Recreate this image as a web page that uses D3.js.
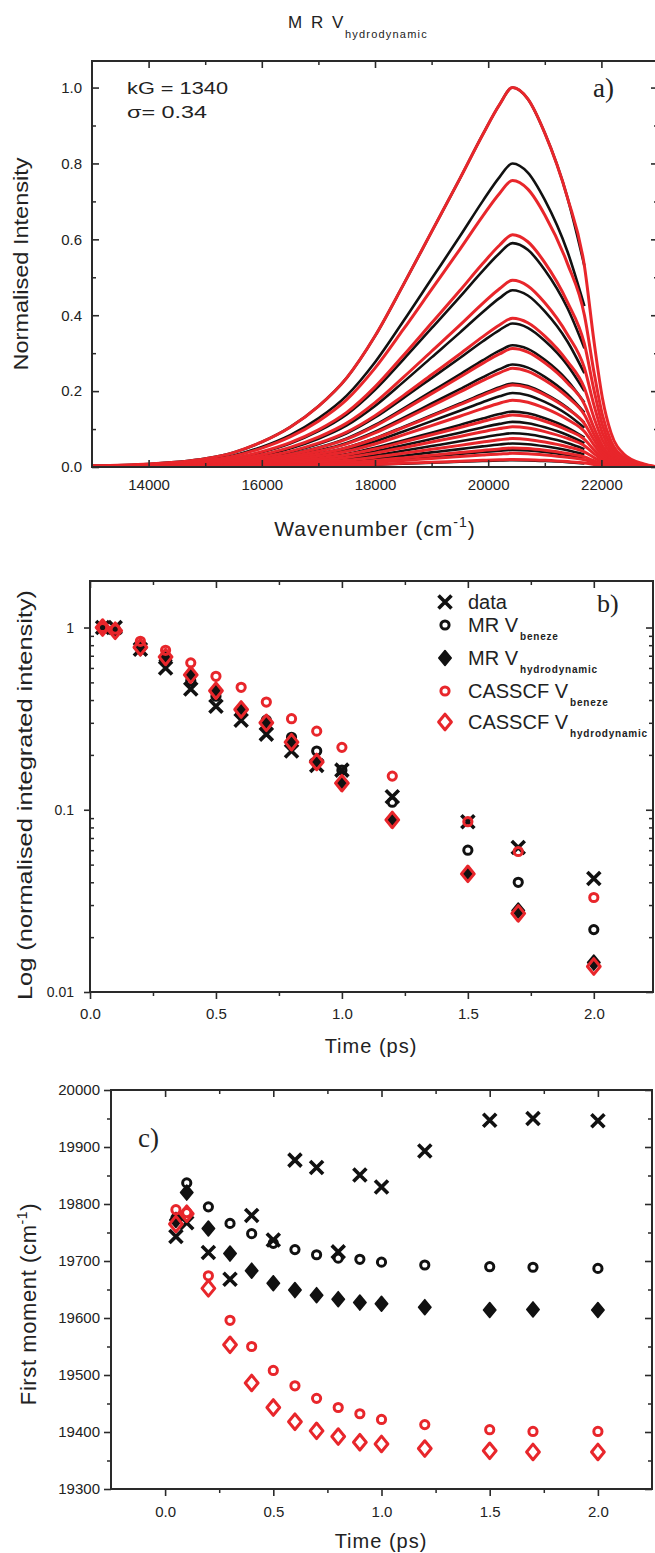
<!DOCTYPE html>
<html>
<head>
<meta charset="utf-8">
<script src="https://cdn.jsdelivr.net/npm/d3@7"></script>
<style>
  body { margin: 0; background: #fff; }
  svg { display: block; }
  text { font-family: "Liberation Sans", Arial, sans-serif; fill: #222; }
  .serif { font-family: "Liberation Serif", "Times New Roman", serif; }
</style>
</head>
<body>
<svg id="chart" width="655" height="1553"></svg>
<script>
// ---------- Panel a: emission spectra ----------
const wavenumbers   = [13000,14000,15000,15500,16000,16500,17000,17500,18000,18500,19000,19500,19900,20200,20430,20700,21000,21400,21700,21870,22020,22170,22390,22750,23000];
const modelProfile  = [0.003,0.008,0.022,0.038,0.066,0.105,0.160,0.235,0.345,0.480,0.620,0.760,0.875,0.955,1.000,0.970,0.880,0.710,0.530,0.330,0.180,0.090,0.035,0.008,0.000];
const dataLastWavenumber = 21720;
const dataPeaks     = [1.0, 0.80, 0.59, 0.466, 0.378, 0.321, 0.27, 0.22, 0.195, 0.146, 0.119, 0.089, 0.062, 0.045, 0.018];
const modelPeaks    = [1.0, 0.755, 0.612, 0.492, 0.392, 0.312, 0.26, 0.216, 0.176, 0.137, 0.106, 0.075, 0.05, 0.036, 0.02];
const xTicksA = [14000, 16000, 18000, 20000, 22000];
const xMinorA = [15000, 17000, 19000, 21000];
const yTicksA = [0, 0.2, 0.4, 0.6, 0.8, 1.0];
const yMinorA = [0.1, 0.3, 0.5, 0.7, 0.9];

// ---------- Shared time axis (panels b, c) ----------
const times = [0.05, 0.1, 0.2, 0.3, 0.4, 0.5, 0.6, 0.7, 0.8, 0.9, 1.0, 1.2, 1.5, 1.7, 2.0];
const timeTicks = [0, 0.5, 1.0, 1.5, 2.0];
const timeMinor = [0.25, 0.75, 1.25, 1.75];

// ---------- Panel b: normalised integrated intensity ----------
const intensityData        = [1.0, 1.0, 0.76, 0.60, 0.46, 0.37, 0.31, 0.26, 0.21, 0.175, 0.165, 0.118, 0.086, 0.062, 0.042];
const intensityMRBeneze    = [1.0, 0.98, 0.78, 0.69, 0.51, 0.42, 0.34, 0.31, 0.25, 0.21, 0.165, 0.11, 0.060, 0.040, 0.022];
const intensityMRHydro     = [1.0, 0.96, 0.77, 0.66, 0.55, 0.45, 0.355, 0.30, 0.235, 0.183, 0.14, 0.088, 0.0445, 0.028, 0.0145];
const intensityCASBeneze   = [1.0, 0.98, 0.84, 0.75, 0.64, 0.54, 0.47, 0.39, 0.316, 0.27, 0.22, 0.153, 0.086, 0.059, 0.033];
const intensityCASHydro    = [1.0, 0.96, 0.78, 0.69, 0.55, 0.45, 0.355, 0.30, 0.235, 0.183, 0.14, 0.088, 0.0445, 0.027, 0.0138];
const logTicks = [0.01, 0.1, 1];

// ---------- Panel c: first moment ----------
const momentData      = [19743, 19767, 19715, 19668, 19780, 19737, 19877, 19864, 19716, 19851, 19830, 19893, 19947, 19950, 19946];
const momentMRBeneze  = [19775, 19837, 19795, 19766, 19748, 19731, 19720, 19711, 19705, 19703, 19698, 19693, 19690, 19689, 19687];
const momentMRHydro   = [19772, 19820, 19757, 19713, 19683, 19661, 19649, 19640, 19633, 19627, 19625, 19619, 19614, 19615, 19614];
const momentCASBeneze = [19790, 19785, 19674, 19596, 19550, 19508, 19481, 19459, 19443, 19432, 19422, 19413, 19404, 19401, 19401];
const momentCASHydro  = [19765, 19783, 19652, 19553, 19486, 19443, 19418, 19402, 19392, 19382, 19379, 19371, 19367, 19365, 19365];
const momentTicks = [19300, 19400, 19500, 19600, 19700, 19800, 19900, 20000];
const momentMinor = [19350, 19450, 19550, 19650, 19750, 19850, 19950];

// ---------- Legend ----------
const legendNames = ["data", "MR V", "MR V", "CASSCF V", "CASSCF V"];
const legendSubs  = ["", "beneze", "hydrodynamic", "beneze", "hydrodynamic"];

const RED = "#e8262b", INK = "#111", AXIS = "#2a2a2a";
const svg = d3.select("#chart");

// Axis helper: positive lengths point outward, negative inward
function drawAxis(g, scale, orient, o) {
  const make = {bottom: d3.axisBottom, top: d3.axisTop, left: d3.axisLeft, right: d3.axisRight}[orient];
  if (o.minor) {
    const m = g.append("g").call(make(scale).tickValues(o.minor).tickSize(o.minorLen).tickFormat(""));
    m.select(".domain").remove();
    m.selectAll("line").attr("stroke", AXIS).attr("stroke-width", 1.5);
  }
  const a = g.append("g").call(make(scale).tickValues(o.major).tickSize(o.majorLen)
    .tickPadding(o.pad || 3).tickFormat(o.fmt || ""));
  a.select(".domain").remove();
  a.selectAll("line").attr("stroke", AXIS).attr("stroke-width", 1.6);
  a.selectAll("text").attr("font-size", o.font || 15).attr("fill", "#333")
    .attr("font-family", "'Liberation Sans', Arial, sans-serif");
  return a;
}

function frame(x0, y0, x1, y1) {
  svg.append("rect").attr("x", x0).attr("y", y0).attr("width", x1 - x0).attr("height", y1 - y0)
    .attr("fill", "none").attr("stroke", AXIS).attr("stroke-width", 2);
}

// Marker shapes
function drawMarkers(g, xs, ys, type, color) {
  const sel = g.append("g").selectAll("g").data(xs.map((t, i) => [t, ys[i]])).join("g")
    .attr("transform", d => `translate(${d[0]},${d[1]})`);
  if (type === "cross") {
    sel.append("path").attr("d", "M-6.5,-6.5L6.5,6.5M-6.5,6.5L6.5,-6.5")
      .attr("stroke", color).attr("stroke-width", 3.6).attr("fill", "none");
  } else if (type === "ring") {
    sel.append("circle").attr("r", 4.1).attr("fill", "none").attr("stroke", color).attr("stroke-width", 3);
  } else if (type === "diamondFill") {
    sel.append("path").attr("d", "M0,-7.5L6.2,0L0,7.5L-6.2,0Z").attr("fill", color)
      .attr("stroke", color).attr("stroke-width", 1.6).attr("stroke-linejoin", "round");
  } else if (type === "diamondRing") {
    sel.append("path").attr("d", "M0,-7.8L6.4,0L0,7.8L-6.4,0Z").attr("fill", "none")
      .attr("stroke", color).attr("stroke-width", 3).attr("stroke-linejoin", "round");
  }
}

// ================= Panel a =================
const A = {l: 92, r: 658, t: 61, b: 467};
const xA = d3.scaleLinear().domain([13000, 23000]).range([A.l, A.r]);
const yA = d3.scaleLinear().domain([0, 1.07]).range([A.b, A.t]);

svg.append("clipPath").attr("id", "clipA").append("rect")
  .attr("x", A.l).attr("y", A.t).attr("width", A.r - A.l).attr("height", A.b - A.t);
const gA = svg.append("g").attr("clip-path", "url(#clipA)");
const lineA = d3.line().x(d => xA(d[0])).y(d => yA(d[1])).curve(d3.curveMonotoneX);

// measured spectra (black), truncated at the detector edge
dataPeaks.forEach(p => {
  const pts = wavenumbers.map((w, i) => [w, p * modelProfile[i]]).filter(d => d[0] <= dataLastWavenumber);
  gA.append("path").attr("d", lineA(pts)).attr("fill", "none").attr("stroke", INK).attr("stroke-width", 2.6);
});
// simulated spectra (red)
modelPeaks.forEach(p => {
  const pts = wavenumbers.map((w, i) => [w, p * modelProfile[i]]);
  gA.append("path").attr("d", lineA(pts)).attr("fill", "none").attr("stroke", RED).attr("stroke-width", 3);
});

frame(A.l, A.t, A.r, A.b);
drawAxis(svg.append("g").attr("transform", `translate(0,${A.b})`), xA, "bottom",
  {major: xTicksA, minor: xMinorA, majorLen: -7, minorLen: -4, pad: 12, fmt: d3.format("d"), font: 15});
drawAxis(svg.append("g").attr("transform", `translate(0,${A.t})`), xA, "top",
  {major: xTicksA, minor: xMinorA, majorLen: -7, minorLen: -4});
drawAxis(svg.append("g").attr("transform", `translate(${A.l},0)`), yA, "left",
  {major: yTicksA, minor: yMinorA, majorLen: -7, minorLen: -4, pad: 10, fmt: d3.format(".1f"), font: 15});
drawAxis(svg.append("g").attr("transform", `translate(${A.r},0)`), yA, "right",
  {major: yTicksA, minor: yMinorA, majorLen: -7, minorLen: -4});

const titleA = svg.append("text").attr("x", 288).attr("y", 28).attr("font-size", 17).attr("fill", "#333");
titleA.append("tspan").attr("letter-spacing", 2).text("M R V");
titleA.append("tspan").attr("x", 345).attr("dy", 10).attr("font-size", 11).attr("letter-spacing", 1.2).text("hydrodynamic");

svg.append("text").attr("x", 127).attr("y", 94).attr("font-size", 17).attr("textLength", 101)
  .attr("lengthAdjust", "spacingAndGlyphs").attr("fill", "#333").text("kG = 1340");
svg.append("text").attr("x", 127).attr("y", 118).attr("font-size", 17).attr("textLength", 80)
  .attr("lengthAdjust", "spacingAndGlyphs").attr("fill", "#333").text("σ= 0.34");
svg.append("text").attr("class", "serif").attr("x", 593).attr("y", 97).attr("font-size", 27).attr("fill", "#222").text("a)");

svg.append("text").attr("transform", "translate(28,264) rotate(-90)").attr("text-anchor", "middle")
  .attr("font-size", 21).attr("textLength", 213).attr("lengthAdjust", "spacingAndGlyphs").text("Normalised Intensity");
const xlabA = svg.append("text").attr("x", 375).attr("y", 536).attr("text-anchor", "middle")
  .attr("font-size", 21).attr("letter-spacing", 1);
xlabA.append("tspan").text("Wavenumber (cm");
xlabA.append("tspan").attr("dy", -9).attr("font-size", 14).text("-1");
xlabA.append("tspan").attr("dy", 9).text(")");

// ================= Panel b =================
const B = {l: 90, r: 653, t: 581, b: 992};
const xB = d3.scaleLinear().domain([0, 2.235]).range([B.l, B.r]);
const yB = d3.scaleLog().domain([0.01, 1.8]).range([B.b, B.t]);
const logMinor = [];
[0.01, 0.1, 1].forEach(dec => d3.range(2, 10).forEach(k => { if (dec * k <= 1.8) logMinor.push(dec * k); }));

frame(B.l, B.t, B.r, B.b);
drawAxis(svg.append("g").attr("transform", `translate(0,${B.b})`), xB, "bottom",
  {major: timeTicks, minor: timeMinor, majorLen: 7, minorLen: 4, pad: 9, fmt: d3.format(".1f"), font: 15});
drawAxis(svg.append("g").attr("transform", `translate(0,${B.t})`), xB, "top",
  {major: timeTicks, minor: timeMinor, majorLen: -7, minorLen: -4});
drawAxis(svg.append("g").attr("transform", `translate(${B.l},0)`), yB, "left",
  {major: logTicks, minor: logMinor, majorLen: 6, minorLen: -4, pad: 10, fmt: d => String(d), font: 14});
drawAxis(svg.append("g").attr("transform", `translate(${B.r},0)`), yB, "right",
  {major: logTicks, minor: logMinor, majorLen: -7, minorLen: -4});

const gB = svg.append("g");
const tx = times.map(t => xB(t));
drawMarkers(gB, tx, intensityData.map(v => yB(v)), "cross", INK);
drawMarkers(gB, tx, intensityMRBeneze.map(v => yB(v)), "ring", INK);
drawMarkers(gB, tx, intensityMRHydro.map(v => yB(v)), "diamondFill", INK);
drawMarkers(gB, tx, intensityCASBeneze.map(v => yB(v)), "ring", RED);
drawMarkers(gB, tx, intensityCASHydro.map(v => yB(v)), "diamondRing", RED);

// legend
const legendTypes = ["cross", "ring", "diamondFill", "ring", "diamondRing"];
const legendColors = [INK, INK, INK, RED, RED];
const legendRowY = [602, 625, 658, 691, 722];
const gL = svg.append("g");
legendNames.forEach((name, i) => {
  drawMarkers(gL, [445], [legendRowY[i]], legendTypes[i], legendColors[i]);
  const t = gL.append("text").attr("x", 468).attr("y", legendRowY[i] + 7).attr("font-size", 20).attr("fill", "#333").text(name);
  if (legendSubs[i]) {
    const nameW = t.node().getComputedTextLength();
    gL.append("text").attr("x", 468 + nameW + 2).attr("y", legendRowY[i] + 15).attr("font-size", 10)
      .attr("font-weight", "bold").attr("letter-spacing", 0.8).attr("fill", "#333").text(legendSubs[i]);
  }
});
svg.append("text").attr("class", "serif").attr("x", 597).attr("y", 612).attr("font-size", 26).attr("fill", "#222").text("b)");

svg.append("text").attr("transform", "translate(32,795) rotate(-90)").attr("text-anchor", "middle")
  .attr("font-size", 21).attr("textLength", 410).attr("lengthAdjust", "spacingAndGlyphs")
  .text("Log (normalised integrated intensity)");
svg.append("text").attr("x", 371).attr("y", 1053).attr("text-anchor", "middle").attr("font-size", 20)
  .attr("letter-spacing", 1).text("Time (ps)");

// ================= Panel c =================
const C = {l: 111, r: 652, t: 1090, b: 1489};
const xC = d3.scaleLinear().domain([-0.25, 2.25]).range([C.l, C.r]);
const yC = d3.scaleLinear().domain([19300, 20000]).range([C.b, C.t]);

frame(C.l, C.t, C.r, C.b);
drawAxis(svg.append("g").attr("transform", `translate(0,${C.b})`), xC, "bottom",
  {major: timeTicks, minor: timeMinor, majorLen: 7, minorLen: 4, pad: 10, fmt: d3.format(".1f"), font: 15});
drawAxis(svg.append("g").attr("transform", `translate(0,${C.t})`), xC, "top",
  {major: timeTicks, minor: timeMinor, majorLen: -7, minorLen: -4});
drawAxis(svg.append("g").attr("transform", `translate(${C.l},0)`), yC, "left",
  {major: momentTicks, minor: momentMinor, majorLen: 7, minorLen: 4, pad: 4, fmt: d3.format("d"), font: 15});
drawAxis(svg.append("g").attr("transform", `translate(${C.r},0)`), yC, "right",
  {major: momentTicks, minor: momentMinor, majorLen: -7, minorLen: -4});

const gC = svg.append("g");
const cx = times.map(t => xC(t));
drawMarkers(gC, cx, momentData.map(v => yC(v)), "cross", INK);
drawMarkers(gC, cx, momentMRBeneze.map(v => yC(v)), "ring", INK);
drawMarkers(gC, cx, momentMRHydro.map(v => yC(v)), "diamondFill", INK);
drawMarkers(gC, cx, momentCASBeneze.map(v => yC(v)), "ring", RED);
drawMarkers(gC, cx, momentCASHydro.map(v => yC(v)), "diamondRing", RED);

svg.append("text").attr("class", "serif").attr("x", 138).attr("y", 1147).attr("font-size", 27).attr("fill", "#222").text("c)");

const ylabC = svg.append("text").attr("transform", "translate(36,1304) rotate(-90)").attr("text-anchor", "middle")
  .attr("font-size", 22).attr("letter-spacing", 0.6);
ylabC.append("tspan").text("First moment (cm");
ylabC.append("tspan").attr("dy", -9).attr("font-size", 14).text("-1");
ylabC.append("tspan").attr("dy", 9).text(")");
svg.append("text").attr("x", 381).attr("y", 1548).attr("text-anchor", "middle").attr("font-size", 20)
  .attr("letter-spacing", 1).text("Time (ps)");
</script>
</body>
</html>
